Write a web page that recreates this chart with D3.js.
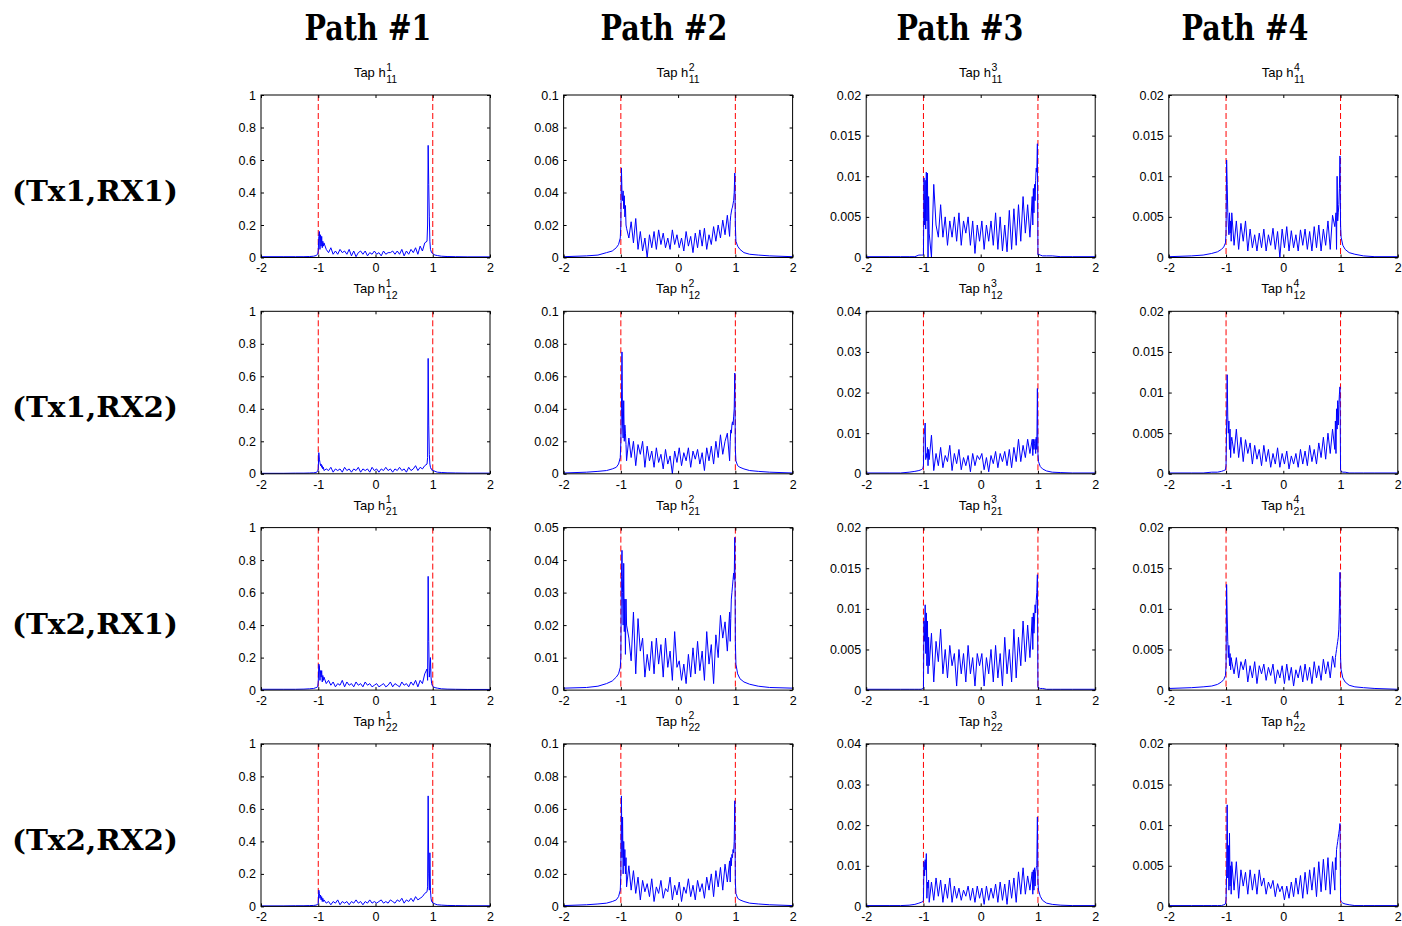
<!DOCTYPE html>
<html>
<head>
<meta charset="utf-8">
<script src="https://cdn.jsdelivr.net/npm/d3@7"></script>
<style>
  body { margin: 0; background: #fff; }
  svg { display: block; }
</style>
</head>
<body>
<div id="chart"></div>
<script>
// shared sample positions (finer near the band edges at -1 and 1)
const xGrid = [
  -2, -1.6, -1.4, -1.25, -1.15, -1.08, -1.04, -1.01,
  -1.0, -0.99, -0.98, -0.97, -0.96, -0.95, -0.94, -0.93, -0.92, -0.91, -0.9,
  -0.86, -0.82, -0.78, -0.74, -0.70, -0.66, -0.62, -0.58, -0.54, -0.50, -0.46,
  -0.42, -0.38, -0.34, -0.30, -0.26, -0.22, -0.18, -0.14, -0.10, -0.06, -0.02,
  0.02, 0.06, 0.10, 0.14, 0.18, 0.22, 0.26, 0.30, 0.34, 0.38, 0.42,
  0.46, 0.50, 0.54, 0.58, 0.62, 0.66, 0.70, 0.74, 0.78, 0.82, 0.86,
  0.9, 0.91, 0.92, 0.93, 0.94, 0.95, 0.96, 0.97, 0.98, 0.99, 1.0,
  1.01, 1.04, 1.08, 1.15, 1.25, 1.4, 1.6, 2
];

const colTitles = ["Path #1", "Path #2", "Path #3", "Path #4"];
const rowLabels = ["(Tx1,RX1)", "(Tx1,RX2)", "(Tx2,RX1)", "(Tx2,RX2)"];
const tapPaths = ["1", "2", "3", "4"];
const tapLinks = ["11", "12", "21", "22"];
const xTicks = [-2, -1, 0, 1, 2];
const bandEdges = [-1, 1];
const yMaxes = [
  [1, 0.1, 0.02, 0.02],
  [1, 0.1, 0.04, 0.02],
  [1, 0.05, 0.02, 0.02],
  [1, 0.1, 0.04, 0.02]
];

// ---- Path #1 ----
const h1_11 = [
  0.005, 0.005, 0.005, 0.005, 0.006, 0.008, 0.012, 0.02,
  0.04, 0.13, 0.16, 0.05, 0.14, 0.07, 0.13, 0.06, 0.10, 0.07, 0.09,
  0.05, 0.03, 0.06, 0.02, 0.04, 0.02, 0.05, 0.03, 0.04, 0.02, 0.05,
  0.01, 0.04, 0.005, 0.03, 0.04, 0.02, 0.04, 0.01, 0.03, 0.02, 0.04,
  0.02, 0.03, 0.01, 0.04, 0.02, 0.03, 0.03, 0.04, 0.02, 0.04, 0.02,
  0.05, 0.01, 0.04, 0.02, 0.05, 0.03, 0.06, 0.02, 0.07, 0.04, 0.09,
  0.10, 0.2, 0.69, 0.45, 0.25, 0.10, 0.05, 0.04, 0.03, 0.03, 0.025,
  0.02, 0.015, 0.012, 0.008, 0.006, 0.005, 0.004, 0.004
];
const h1_12 = [
  0.003, 0.003, 0.004, 0.004, 0.005, 0.006, 0.008, 0.015,
  0.03, 0.13, 0.09, 0.07, 0.05, 0.06, 0.04, 0.05, 0.03, 0.04, 0.02,
  0.03, 0.02, 0.04, 0.01, 0.03, 0.02, 0.03, 0.01, 0.04, 0.02, 0.03,
  0.01, 0.03, 0.02, 0.04, 0.01, 0.03, 0.02, 0.03, 0.01, 0.04, 0.02,
  0.03, 0.01, 0.03, 0.02, 0.04, 0.02, 0.03, 0.01, 0.03, 0.02, 0.04,
  0.02, 0.03, 0.01, 0.04, 0.02, 0.03, 0.05, 0.02, 0.04, 0.03, 0.05,
  0.06, 0.10, 0.71, 0.30, 0.12, 0.06, 0.04, 0.03, 0.03, 0.02, 0.02,
  0.02, 0.015, 0.01, 0.008, 0.006, 0.005, 0.004, 0.004
];
const h1_21 = [
  0.005, 0.005, 0.005, 0.006, 0.008, 0.01, 0.015, 0.02,
  0.05, 0.16, 0.15, 0.06, 0.12, 0.08, 0.12, 0.05, 0.09, 0.06, 0.08,
  0.04, 0.06, 0.03, 0.05, 0.02, 0.04, 0.03, 0.06, 0.02, 0.05, 0.03,
  0.04, 0.02, 0.05, 0.03, 0.04, 0.02, 0.05, 0.03, 0.04, 0.02, 0.03,
  0.04, 0.02, 0.03, 0.04, 0.02, 0.03, 0.05, 0.02, 0.04, 0.03, 0.02,
  0.05, 0.03, 0.04, 0.02, 0.05, 0.03, 0.06, 0.02, 0.06, 0.04, 0.10,
  0.13, 0.06, 0.70, 0.30, 0.08, 0.12, 0.20, 0.08, 0.04, 0.03, 0.025,
  0.02, 0.015, 0.012, 0.008, 0.006, 0.005, 0.004, 0.004
];
const h1_22 = [
  0.003, 0.003, 0.004, 0.004, 0.005, 0.006, 0.008, 0.012,
  0.02, 0.10, 0.08, 0.05, 0.07, 0.04, 0.06, 0.03, 0.05, 0.03, 0.04,
  0.02, 0.03, 0.01, 0.03, 0.02, 0.04, 0.01, 0.03, 0.02, 0.03, 0.01,
  0.03, 0.02, 0.04, 0.02, 0.03, 0.01, 0.03, 0.02, 0.04, 0.02, 0.03,
  0.02, 0.03, 0.04, 0.02, 0.03, 0.02, 0.04, 0.03, 0.02, 0.04, 0.03,
  0.05, 0.02, 0.04, 0.03, 0.05, 0.03, 0.06, 0.04, 0.05, 0.06, 0.08,
  0.09, 0.12, 0.68, 0.20, 0.10, 0.33, 0.10, 0.05, 0.03, 0.03, 0.02,
  0.02, 0.015, 0.01, 0.008, 0.006, 0.005, 0.004, 0.004
];

// ---- Path #2 ----
const h2_11 = [
  0.0005, 0.001, 0.0015, 0.003, 0.004, 0.006, 0.008, 0.012,
  0.02, 0.055, 0.04, 0.035, 0.041, 0.03, 0.038, 0.025, 0.032, 0.02, 0.018,
  0.012, 0.022, 0.009, 0.024, 0.005, 0.016, 0.004, 0.012, 0.0, 0.014, 0.006,
  0.016, 0.005, 0.017, 0.008, 0.015, 0.006, 0.012, 0.005, 0.017, 0.008, 0.014,
  0.006, 0.012, 0.004, 0.016, 0.007, 0.013, 0.003, 0.015, 0.006, 0.017, 0.007,
  0.018, 0.005, 0.014, 0.008, 0.019, 0.01, 0.02, 0.012, 0.023, 0.014, 0.026,
  0.013, 0.022, 0.026, 0.028, 0.03, 0.031, 0.033, 0.035, 0.04, 0.052, 0.02,
  0.01, 0.007, 0.005, 0.003, 0.002, 0.0015, 0.001, 0.0005
];
const h2_12 = [
  0.0005, 0.001, 0.0015, 0.002, 0.003, 0.004, 0.006, 0.01,
  0.02, 0.04, 0.075, 0.03, 0.022, 0.045, 0.02, 0.03, 0.025, 0.018, 0.008,
  0.022, 0.01, 0.02, 0.005, 0.018, 0.012, 0.02, 0.004, 0.017, 0.008, 0.014,
  0.004, 0.016, 0.007, 0.012, 0.003, 0.015, 0.006, 0.011, 0.0, 0.014, 0.007,
  0.016, 0.005, 0.013, 0.008, 0.016, 0.004, 0.014, 0.009, 0.015, 0.006, 0.013,
  0.002, 0.016, 0.008, 0.017, 0.006, 0.02, 0.01, 0.024, 0.012, 0.02, 0.025,
  0.008, 0.02, 0.027, 0.025, 0.03, 0.032, 0.03, 0.035, 0.04, 0.062, 0.015,
  0.008, 0.005, 0.004, 0.003, 0.002, 0.0015, 0.001, 0.0005
];
const h2_21 = [
  0.0006, 0.0008, 0.0012, 0.002, 0.0028, 0.004, 0.005, 0.007,
  0.01, 0.035, 0.043, 0.03, 0.02, 0.039, 0.018, 0.028, 0.011, 0.028, 0.02,
  0.016, 0.009, 0.024, 0.005, 0.022, 0.012, 0.016, 0.004, 0.011, 0.006, 0.015,
  0.005, 0.016, 0.008, 0.014, 0.004, 0.016, 0.007, 0.012, 0.003, 0.018, 0.007,
  0.009, 0.003, 0.008, 0.002, 0.011, 0.004, 0.013, 0.005, 0.015, 0.006, 0.012,
  0.003, 0.018, 0.008, 0.014, 0.002, 0.017, 0.01, 0.023, 0.016, 0.021, 0.012,
  0.024, 0.015, 0.022, 0.028, 0.03, 0.032, 0.034, 0.036, 0.034, 0.047, 0.015,
  0.008, 0.005, 0.0035, 0.0025, 0.0018, 0.0012, 0.0008, 0.0006
];
const h2_22 = [
  0.0005, 0.001, 0.0015, 0.002, 0.003, 0.004, 0.006, 0.01,
  0.02, 0.068, 0.03, 0.055, 0.02, 0.04, 0.025, 0.035, 0.02, 0.03, 0.012,
  0.025, 0.01, 0.022, 0.008, 0.018, 0.004, 0.016, 0.009, 0.014, 0.006, 0.017,
  0.003, 0.012, 0.008, 0.016, 0.005, 0.011, 0.009, 0.018, 0.004, 0.013, 0.007,
  0.015, 0.003, 0.012, 0.008, 0.017, 0.006, 0.013, 0.004, 0.016, 0.009, 0.014,
  0.005, 0.018, 0.01, 0.02, 0.006, 0.022, 0.012, 0.024, 0.01, 0.026, 0.015,
  0.028, 0.015, 0.03, 0.025, 0.032, 0.03, 0.035, 0.033, 0.04, 0.065, 0.015,
  0.008, 0.005, 0.004, 0.003, 0.002, 0.0015, 0.001, 0.0005
];

// ---- Path #3 ----
const h3_11 = [
  0.0001, 0.0001, 0.0001, 0.0001, 0.0001, 0.0003, 0.0003, 0.0003,
  0.0003, 0.0098, 0.004, 0.0095, 0.0035, 0.0105, 0.0045, 0.0104, 0.0, 0.0075, 0.003,
  0.0, 0.009, 0.004, 0.0025, 0.0065, 0.0025, 0.005, 0.0015, 0.0045, 0.0025, 0.005,
  0.002, 0.0055, 0.0015, 0.0045, 0.003, 0.005, 0.0015, 0.0045, 0.0005, 0.004, 0.002,
  0.0045, 0.001, 0.004, 0.002, 0.0045, 0.0015, 0.0055, 0.001, 0.005, 0.0008, 0.004,
  0.0007, 0.0058, 0.001, 0.006, 0.0015, 0.0065, 0.002, 0.0075, 0.003, 0.0065, 0.0025,
  0.0075, 0.004, 0.0085, 0.0055, 0.009, 0.007, 0.0095, 0.011, 0.0105, 0.014, 0.0003,
  0.0004, 0.0003, 0.0002, 0.0002, 0.0002, 0.0001, 0.0001, 0.0001
];
const h3_12 = [
  0.0002, 0.0002, 0.0002, 0.0004, 0.0006, 0.0008, 0.001, 0.0013,
  0.002, 0.0095, 0.0105, 0.0125, 0.0035, 0.005, 0.004, 0.0065, 0.002, 0.006, 0.0035,
  0.0095, 0.0008, 0.005, 0.002, 0.0065, 0.0015, 0.0045, 0.003, 0.007, 0.0008, 0.005,
  0.0025, 0.006, 0.001, 0.004, 0.002, 0.0045, 0.0005, 0.005, 0.002, 0.0045, 0.0035,
  0.005, 0.001, 0.004, 0.0005, 0.0045, 0.0025, 0.0055, 0.0015, 0.005, 0.003, 0.0055,
  0.002, 0.006, 0.0015, 0.0065, 0.003, 0.0085, 0.003, 0.007, 0.004, 0.0085, 0.005,
  0.0085, 0.0045, 0.0085, 0.006, 0.0075, 0.0085, 0.005, 0.009, 0.006, 0.021, 0.005,
  0.003, 0.0018, 0.0012, 0.0007, 0.0004, 0.0003, 0.0002, 0.0002
];
const h3_21 = [
  0.0001, 0.0001, 0.0001, 0.0001, 0.0001, 0.0001, 0.0001, 0.0002,
  0.0002, 0.0085, 0.006, 0.0105, 0.0045, 0.0095, 0.003, 0.0085, 0.002, 0.0065, 0.003,
  0.007, 0.001, 0.006, 0.0035, 0.0075, 0.002, 0.005, 0.0015, 0.0055, 0.003, 0.0045,
  0.0005, 0.005, 0.002, 0.0045, 0.001, 0.0055, 0.002, 0.004, 0.0005, 0.0045, 0.003,
  0.0045, 0.0005, 0.004, 0.002, 0.005, 0.001, 0.0055, 0.0015, 0.0045, 0.0005, 0.0065,
  0.002, 0.005, 0.001, 0.0075, 0.0015, 0.0065, 0.003, 0.0085, 0.0035, 0.008, 0.004,
  0.009, 0.005, 0.0095, 0.007, 0.0085, 0.0105, 0.0095, 0.011, 0.012, 0.0142, 0.0003,
  0.0003, 0.0002, 0.0002, 0.0001, 0.0001, 0.0001, 0.0001, 0.0001
];
const h3_22 = [
  0.0002, 0.0002, 0.0002, 0.0003, 0.0005, 0.0008, 0.001, 0.0012,
  0.0015, 0.011, 0.0075, 0.0115, 0.009, 0.013, 0.002, 0.006, 0.0045, 0.0065, 0.001,
  0.006, 0.0015, 0.007, 0.0025, 0.0065, 0.001, 0.0055, 0.002, 0.007, 0.001, 0.005,
  0.002, 0.0045, 0.0015, 0.004, 0.0025, 0.005, 0.0015, 0.0045, 0.001, 0.005, 0.002,
  0.0045, 0.0005, 0.005, 0.0015, 0.0045, 0.002, 0.0055, 0.001, 0.006, 0.0015, 0.0055,
  0.0005, 0.0065, 0.002, 0.007, 0.001, 0.0085, 0.003, 0.0095, 0.003, 0.0075, 0.004,
  0.0085, 0.003, 0.009, 0.004, 0.0095, 0.005, 0.0085, 0.0095, 0.01, 0.022, 0.006,
  0.004, 0.0025, 0.0015, 0.0008, 0.0005, 0.0003, 0.0002, 0.0002
];

// ---- Path #4 ----
const h4_11 = [
  0.0001, 0.0002, 0.0003, 0.0005, 0.0007, 0.001, 0.0013, 0.0018,
  0.003, 0.012, 0.009, 0.0055, 0.004, 0.0028, 0.0055, 0.003, 0.0045, 0.002, 0.0055,
  0.0015, 0.0045, 0.001, 0.0042, 0.002, 0.0045, 0.0008, 0.0035, 0.0012, 0.0028, 0.0008,
  0.003, 0.0012, 0.0035, 0.0008, 0.0028, 0.0015, 0.0036, 0.001, 0.0032, 0.0, 0.0035,
  0.0012, 0.0038, 0.0008, 0.0033, 0.0012, 0.0028, 0.0008, 0.0034, 0.0015, 0.0035, 0.001,
  0.0032, 0.0008, 0.0038, 0.0012, 0.004, 0.0008, 0.0035, 0.0015, 0.0045, 0.001, 0.0052,
  0.0038, 0.0045, 0.0055, 0.001, 0.01, 0.0045, 0.0055, 0.0065, 0.0085, 0.0125, 0.004,
  0.0025, 0.0015, 0.001, 0.0006, 0.0004, 0.0002, 0.0001, 0.0001
];
const h4_12 = [
  0.0001, 0.0001, 0.0001, 0.0002, 0.0002, 0.0003, 0.0004, 0.0005,
  0.001, 0.006, 0.0122, 0.007, 0.005, 0.0065, 0.003, 0.0055, 0.002, 0.004, 0.0045,
  0.0025, 0.0055, 0.002, 0.0045, 0.0015, 0.0042, 0.0025, 0.0038, 0.0012, 0.0035, 0.0018,
  0.003, 0.001, 0.0035, 0.0015, 0.003, 0.0008, 0.0025, 0.0012, 0.0032, 0.0008, 0.0025,
  0.0012, 0.0028, 0.0006, 0.0022, 0.0012, 0.0025, 0.0008, 0.003, 0.0012, 0.0028, 0.001,
  0.0035, 0.0015, 0.003, 0.0012, 0.0038, 0.002, 0.0045, 0.0018, 0.005, 0.0025, 0.0055,
  0.003, 0.0065, 0.0025, 0.008, 0.0055, 0.009, 0.006, 0.0085, 0.0098, 0.0107, 0.0005,
  0.0003, 0.0002, 0.0002, 0.0001, 0.0001, 0.0001, 0.0001, 0.0001
];
const h4_21 = [
  0.0002, 0.0003, 0.0004, 0.0005, 0.0007, 0.001, 0.0013, 0.0018,
  0.003, 0.013, 0.009, 0.006, 0.004, 0.0055, 0.003, 0.0045, 0.0025, 0.004, 0.0035,
  0.002, 0.004, 0.0015, 0.0035, 0.0025, 0.0038, 0.001, 0.003, 0.0015, 0.0035, 0.0008,
  0.003, 0.002, 0.0032, 0.0012, 0.0028, 0.0018, 0.0032, 0.0008, 0.0025, 0.0015, 0.003,
  0.0008, 0.0032, 0.0012, 0.0028, 0.0005, 0.0025, 0.0015, 0.003, 0.001, 0.0032, 0.0012,
  0.0028, 0.0008, 0.0035, 0.0015, 0.003, 0.0012, 0.0038, 0.002, 0.0035, 0.0015, 0.0042,
  0.0028, 0.004, 0.0045, 0.005, 0.0055, 0.006, 0.0065, 0.0075, 0.01, 0.0145, 0.004,
  0.0025, 0.0015, 0.001, 0.0006, 0.0004, 0.0003, 0.0002, 0.0001
];
const h4_22 = [
  0.0001, 0.0001, 0.0001, 0.0001, 0.0001, 0.0001, 0.0002, 0.0003,
  0.0008, 0.004, 0.0125, 0.0035, 0.0075, 0.002, 0.009, 0.0025, 0.005, 0.0015, 0.0055,
  0.002, 0.0055, 0.001, 0.0045, 0.0025, 0.0042, 0.0015, 0.0045, 0.002, 0.004, 0.0015,
  0.0045, 0.0025, 0.0035, 0.0015, 0.003, 0.0022, 0.0032, 0.0012, 0.0028, 0.0018, 0.0025,
  0.0008, 0.0025, 0.001, 0.003, 0.0012, 0.0035, 0.0015, 0.0038, 0.001, 0.0042, 0.0015,
  0.0045, 0.002, 0.0048, 0.0012, 0.0055, 0.0018, 0.0058, 0.002, 0.006, 0.0015, 0.0055,
  0.002, 0.006, 0.0045, 0.007, 0.0075, 0.008, 0.0085, 0.009, 0.0095, 0.0102, 0.0008,
  0.0006, 0.0004, 0.0003, 0.0002, 0.0001, 0.0001, 0.0001, 0.0001
];

// rows = (Tx,Rx) link, cols = path
const series = [
  [h1_11, h2_11, h3_11, h4_11],
  [h1_12, h2_12, h3_12, h4_12],
  [h1_21, h2_21, h3_21, h4_21],
  [h1_22, h2_22, h3_22, h4_22]
];

const width = 1402, height = 926;
const panelW = 229, panelH = 162.5;
const left0 = 261, colStep = 302.6;
const top0 = 95, rowStep = 216.3;
const colTitleX = [368, 664, 960, 1245];
const tickLen = 3;
const sansFont = "'Liberation Sans', Arial, Helvetica, sans-serif";
const serifFont = "'DejaVu Serif', serif";

const svg = d3.select("#chart").append("svg")
  .attr("width", width)
  .attr("height", height);

// column headings
svg.selectAll("text.colTitle")
  .data(colTitles)
  .enter().append("text")
  .attr("class", "colTitle")
  .attr("x", (d, i) => colTitleX[i])
  .attr("y", 40)
  .attr("text-anchor", "middle")
  .attr("font-family", serifFont)
  .attr("font-weight", "bold")
  .attr("font-size", 36)
  .attr("textLength", 127)
  .attr("lengthAdjust", "spacingAndGlyphs")
  .text(d => d);

// row headings
svg.selectAll("text.rowLabel")
  .data(rowLabels)
  .enter().append("text")
  .attr("class", "rowLabel")
  .attr("x", 95)
  .attr("y", (d, i) => top0 + 106 + i * rowStep)
  .attr("text-anchor", "middle")
  .attr("font-family", serifFont)
  .attr("font-weight", "bold")
  .attr("font-size", 27)
  .attr("textLength", 166)
  .attr("lengthAdjust", "spacingAndGlyphs")
  .text(d => d);

// plain number labels with a hyphen minus, as in the original
const plain = d => String(d);

function drawPanel(r, c) {
  const x0 = left0 + c * colStep;
  const y0 = top0 + r * rowStep;
  const g = svg.append("g").attr("transform", `translate(${x0},${y0})`);

  const x = d3.scaleLinear().domain([-2, 2]).range([0, panelW]);
  const y = d3.scaleLinear().domain([0, yMaxes[r][c]]).range([panelH, 0]);
  const yTicks = y.ticks(5);

  // band edge markers
  g.selectAll("line.edge")
    .data(bandEdges)
    .enter().append("line")
    .attr("x1", d => x(d)).attr("x2", d => x(d))
    .attr("y1", 0).attr("y2", panelH)
    .attr("stroke", "#ff0000")
    .attr("stroke-width", 1)
    .attr("stroke-dasharray", "6,3");

  // spectrum trace
  const line = d3.line()
    .x((d, i) => x(xGrid[i]))
    .y(d => y(d));
  g.append("path")
    .datum(series[r][c])
    .attr("d", line)
    .attr("fill", "none")
    .attr("stroke", "#0000ff")
    .attr("stroke-width", 1)
    .attr("stroke-linejoin", "round");

  // axes, ticks pointing inward on all four sides
  const axBottom = d3.axisBottom(x).tickValues(xTicks).tickSizeInner(-tickLen).tickSizeOuter(0).tickPadding(6).tickFormat(plain);
  const axTop = d3.axisTop(x).tickValues(xTicks).tickSizeInner(-tickLen).tickSizeOuter(0).tickFormat("");
  const axLeft = d3.axisLeft(y).tickValues(yTicks).tickSizeInner(-tickLen).tickSizeOuter(0).tickPadding(5).tickFormat(plain);
  const axRight = d3.axisRight(y).tickValues(yTicks).tickSizeInner(-tickLen).tickSizeOuter(0).tickFormat("");

  const gb = g.append("g").attr("transform", `translate(0,${panelH})`).call(axBottom);
  const gt = g.append("g").call(axTop);
  const gl = g.append("g").call(axLeft);
  const gr = g.append("g").attr("transform", `translate(${panelW},0)`).call(axRight);

  [gb, gt, gl, gr].forEach(a => {
    a.select(".domain").remove();
    a.selectAll(".tick line").attr("stroke", "#000");
    a.selectAll("text")
      .attr("font-family", sansFont)
      .attr("font-size", 12.5)
      .attr("fill", "#000");
  });

  g.append("rect")
    .attr("x", 0).attr("y", 0)
    .attr("width", panelW).attr("height", panelH)
    .attr("fill", "none")
    .attr("stroke", "#000")
    .attr("stroke-width", 1);

  // title: Tap h with stacked super/subscript
  const title = g.append("g");
  const main = title.append("text")
    .attr("x", 0).attr("y", 0)
    .attr("font-family", sansFont)
    .attr("font-size", 13)
    .text("Tap h");
  const mw = main.node().getComputedTextLength();
  const sup = title.append("text")
    .attr("x", mw + 0.5).attr("y", -6.5)
    .attr("font-family", sansFont)
    .attr("font-size", 10.5)
    .text(tapPaths[c]);
  const sub = title.append("text")
    .attr("x", mw + 0.5).attr("y", 5.5)
    .attr("font-family", sansFont)
    .attr("font-size", 10.5)
    .text(tapLinks[r]);
  const tw = mw + 0.5 + Math.max(sup.node().getComputedTextLength(), sub.node().getComputedTextLength());
  title.attr("transform", `translate(${panelW / 2 - tw / 2},-18)`);
}

for (let r = 0; r < 4; r++) {
  for (let c = 0; c < 4; c++) {
    if (series[r][c].length !== xGrid.length) console.warn("length mismatch", r, c, series[r][c].length);
    drawPanel(r, c);
  }
}
</script>
</body>
</html>
